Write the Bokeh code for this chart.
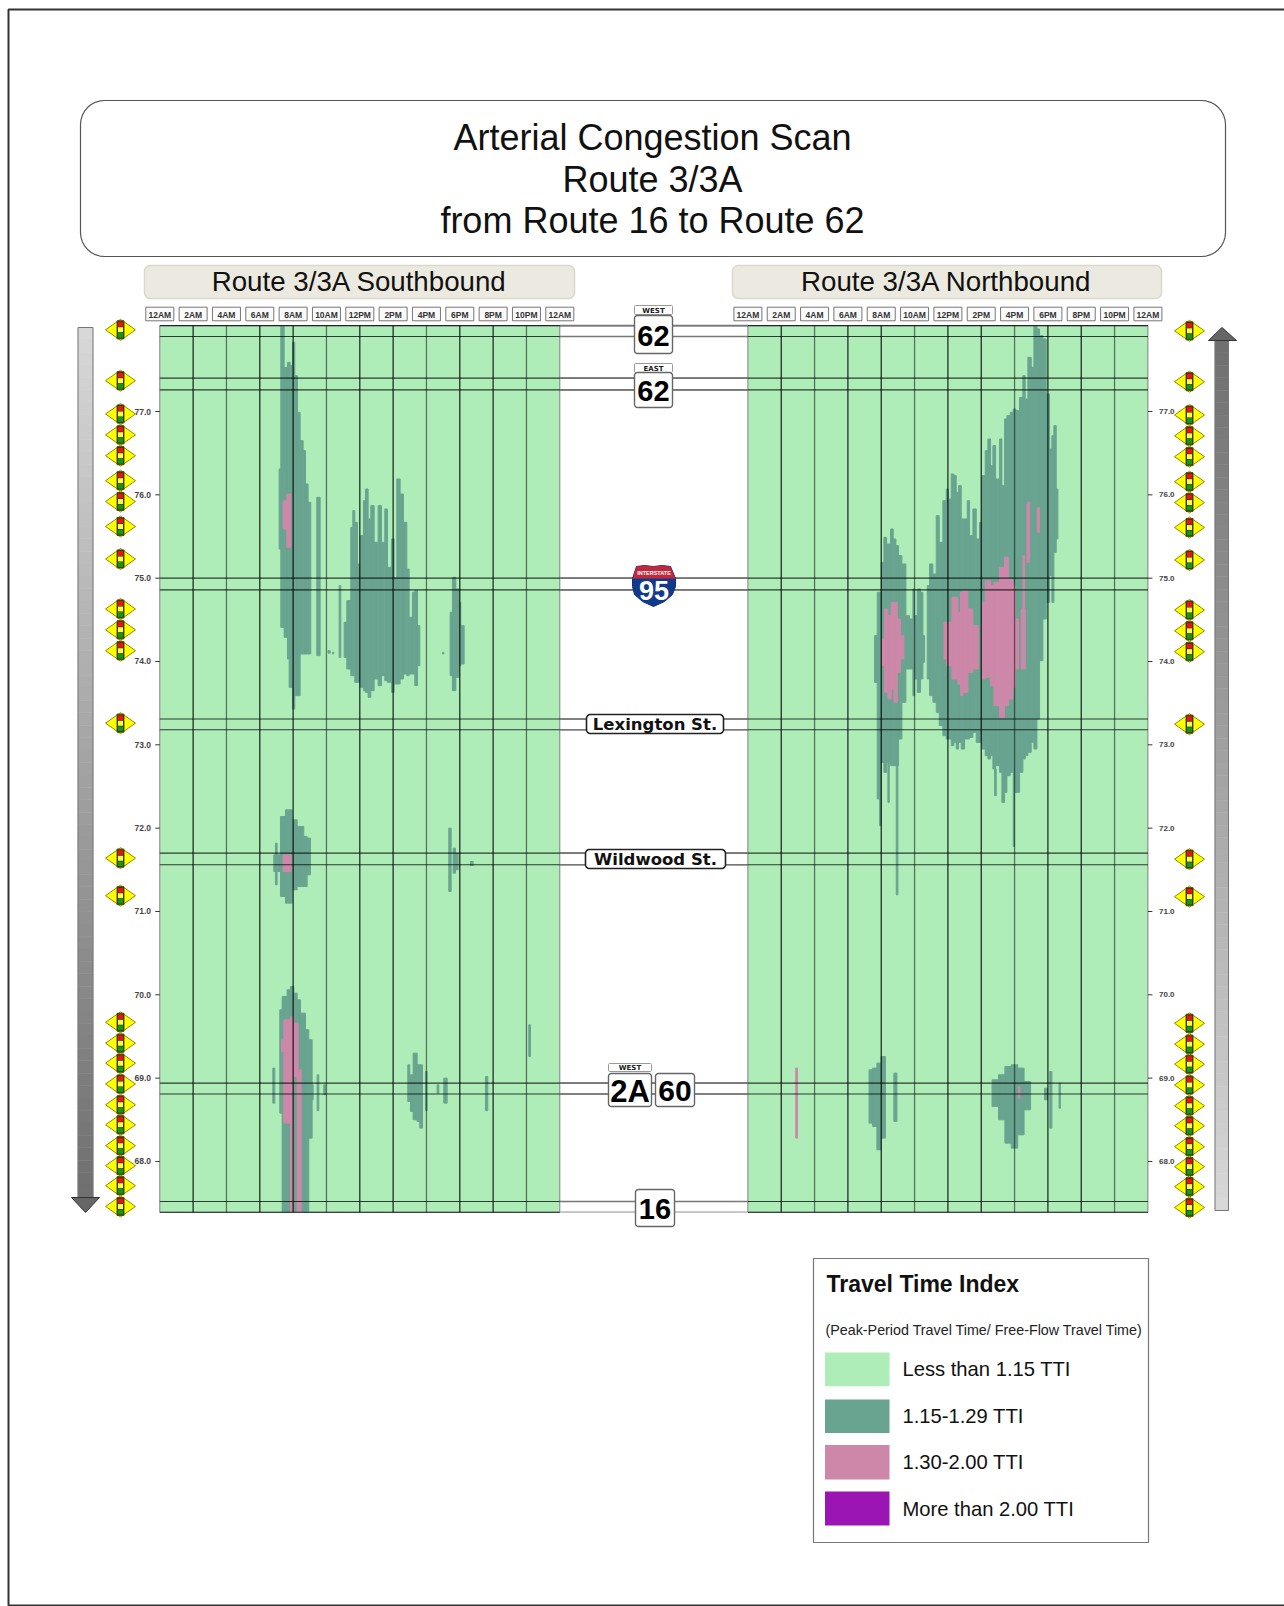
from bokeh.plotting import figure
from bokeh.models import Range1d
from bokeh.core.properties import value
from bokeh.embed import file_html
from bokeh.resources import INLINE
import math

# ---------- data: (start hour, end hour, upper milepost, lower milepost) ----------
SB_MID = [
 (7.16,7.26,76.31,75.35),(7.26,7.46,78.03,74.41),(7.46,7.66,77.53,74.29),(7.66,7.82,77.59,74.03),
 (7.76,7.96,77.55,73.69),(7.96,8.1,77.83,73.43),(8.1,8.26,77.43,73.59),(8.26,8.42,76.99,73.59),
 (8.42,8.6,76.65,74.09),(8.6,8.74,76.53,74.09),(8.74,8.9,76.13,74.09),(8.9,9.06,75.91,74.09),
 (9.42,9.62,75.97,74.07),(10.1,10.22,74.13,74.1),(10.36,10.44,74.11,74.09),(10.76,10.86,74.91,74.05),
 (11.06,11.22,74.47,74.05),(11.22,11.46,74.73,73.91),(11.46,11.58,75.61,73.83),(11.58,11.7,75.81,73.83),
 (11.7,11.86,75.67,73.75),(11.86,12.02,75.17,73.75),(12.02,12.22,75.51,73.69),(12.22,12.34,75.93,73.65),
 (12.34,12.5,76.07,73.63),(12.5,12.66,75.71,73.57),(12.66,12.86,75.87,73.65),(12.86,13.1,75.43,73.79),
 (13.1,13.3,75.87,73.71),(13.3,13.5,75.43,73.83),(13.5,13.66,75.83,73.77),(13.66,13.9,75.13,73.75),
 (13.9,14.06,75.47,73.63),(14.06,14.22,75.01,73.73),(14.22,14.42,76.19,73.73),(14.42,14.62,76.01,73.79),
 (14.62,14.82,75.67,73.85),(14.82,14.96,75.11,73.83),(14.96,15.16,74.53,73.85),(15.16,15.3,74.83,73.85),
 (15.3,15.46,74.85,73.71),(15.46,15.6,74.43,73.95),(16.96,17.04,74.11,74.09),
 (17.42,17.56,74.59,73.83),(17.56,17.76,75.01,73.65),(17.76,17.96,74.87,73.81),(17.96,18.06,74.71,73.95),
 (18.06,18.26,74.43,73.97),
 (6.94,7.04,71.82,71.32),(6.84,7.24,71.68,71.48),(7.24,7.54,72.14,71.18),(7.54,7.94,72.22,71.1),
 (7.94,8.24,72.1,71.26),(8.24,8.64,72.02,71.3),(8.64,8.84,71.9,71.3),(8.84,9.04,71.88,71.44),
 (17.34,17.48,72.0,71.24),(17.6,17.74,71.76,71.46),(17.8,17.9,71.7,71.5),(18.64,18.8,71.6,71.55),
 (7.2,7.34,69.82,68.58),(7.34,7.64,69.98,67.39),(7.64,7.84,70.06,67.39),(7.84,8.04,70.1,67.39),
 (8.04,8.24,70.02,67.39),(8.24,8.44,69.94,67.39),(8.44,8.74,69.78,67.39),(8.74,8.94,69.58,67.39),
 (8.94,9.14,69.46,68.28),(6.78,6.9,69.12,68.7),(9.44,9.54,69.04,68.61),(9.14,9.2,68.92,68.74),
 (9.84,9.94,68.92,68.8),(14.88,15.0,69.16,68.72),(15.04,15.2,69.04,68.6),(15.2,15.44,69.3,68.5),
 (15.44,15.6,69.16,68.48),(15.6,15.76,69.16,68.4),(15.94,16.04,69.08,68.61),(16.64,16.74,68.92,68.82),
 (17.04,17.24,69.0,68.7),(19.54,19.68,69.02,68.61),(22.14,22.24,69.64,69.26),
]
SB_HIGH = [
 (7.4,7.62,75.93,75.59),(7.62,7.86,76.01,75.37),(7.4,7.88,71.68,71.48),
 (7.3,7.44,69.46,69.32),(7.44,7.88,69.7,68.46),(7.84,8.0,69.74,67.39),(8.0,8.3,69.66,69.02),
 (8.24,8.48,69.1,67.39),
]
NB_MID = [
 (7.6,7.76,74.31,73.75),(7.76,7.9,74.83,72.35),(7.9,8.0,74.83,72.03),(8.0,8.16,75.19,72.79),
 (8.16,8.32,75.49,72.67),(8.32,8.56,75.41,72.79),(8.4,8.48,72.79,72.31),(8.56,8.72,75.59,72.75),
 (8.72,8.88,75.47,72.75),(8.88,9.04,75.39,72.75),(8.9,9.0,72.75,71.2),(9.04,9.24,75.27,73.07),
 (9.24,9.48,75.17,73.51),(9.48,9.7,74.55,73.91),(9.7,9.9,74.51,73.91),(9.9,10.0,74.87,73.59),
 (10.0,10.16,74.55,73.79),(10.16,10.36,74.87,73.63),(10.36,10.5,74.83,73.79),(10.5,10.6,74.31,73.99),
 (10.76,10.9,74.91,73.79),(10.9,11.1,75.17,73.59),(11.1,11.3,75.05,73.51),(11.3,11.48,75.75,73.39),
 (11.48,11.7,75.43,73.23),(11.7,11.9,75.93,73.11),(11.9,12.04,76.07,73.07),(12.04,12.2,75.95,73.07),
 (12.2,12.36,76.25,72.99),(12.36,12.5,76.23,73.03),(12.5,12.64,76.03,72.95),(12.64,12.8,76.11,73.03),
 (12.8,13.0,75.71,72.95),(13.0,13.16,75.71,73.07),(13.16,13.3,75.93,73.07),(13.3,13.5,75.51,73.09),
 (13.5,13.7,75.83,73.15),(13.7,13.9,75.47,73.03),(13.9,14.04,75.67,73.03),(14.04,14.24,76.23,72.95),
 (14.24,14.4,76.53,72.87),(14.4,14.56,76.67,72.83),(14.56,14.7,76.35,72.87),(14.7,14.86,76.59,72.71),
 (14.8,14.9,72.71,72.39),(14.86,15.1,76.19,72.75),(15.1,15.24,76.67,72.67),(15.24,15.4,76.11,72.31),
 (15.4,15.54,76.91,72.43),(15.54,15.74,76.95,72.63),(15.74,15.92,76.99,72.67),(15.92,16.0,77.03,71.78),
 (16.0,16.08,77.03,72.43),(16.08,16.3,77.01,72.43),(16.3,16.5,77.17,72.67),(16.5,16.64,77.43,72.83),
 (16.64,16.8,77.15,72.87),(16.8,17.0,77.65,72.91),(17.0,17.16,77.53,73.03),(17.16,17.34,78.03,72.95),
 (17.34,17.5,77.99,73.31),(17.5,17.7,77.91,74.01),(17.7,17.9,77.87,74.51),(17.9,18.1,77.21,74.71),
 (18.1,18.24,76.55,75.03),(18.24,18.36,76.71,74.71),(18.36,18.5,76.83,75.31),(18.5,18.6,76.07,75.47),
 (7.27,7.48,69.1,68.46),(7.48,7.74,69.12,68.42),(7.74,7.99,69.18,68.14),(7.99,8.25,69.26,68.28),
 (8.76,8.94,69.06,68.48),(14.65,15.04,68.98,68.66),(15.04,15.42,69.04,68.5),(15.42,15.8,69.14,68.22),
 (15.8,16.19,69.16,68.16),(16.19,16.57,69.12,68.32),(16.57,16.96,68.96,68.62),(17.8,17.98,68.88,68.74),
 (18.11,18.24,69.08,68.4),(18.67,18.75,68.94,68.64),
]
NB_HIGH = [
 (8.04,8.2,74.27,73.95),(8.2,8.4,74.63,73.63),(8.4,8.6,74.55,73.55),(8.6,8.76,74.71,73.67),
 (8.76,8.96,74.71,73.51),(8.96,9.16,74.51,73.87),(9.16,9.36,74.31,74.03),
 (11.76,11.92,74.47,74.03),(11.92,12.24,74.47,73.95),(12.24,12.6,74.77,73.79),(12.6,12.76,74.59,73.73),
 (12.76,12.9,74.83,73.59),(12.9,13.2,74.85,73.63),(13.2,13.5,74.63,73.87),(13.5,13.84,74.43,73.91),
 (14.04,14.24,74.71,73.79),(14.24,14.56,74.97,73.81),(14.56,14.76,74.91,73.71),(14.76,15.1,74.95,73.47),
 (15.1,15.4,75.13,73.33),(15.4,15.64,75.25,73.47),(15.64,15.9,74.99,73.55),(15.9,16.04,74.91,73.69),
 (16.04,16.24,74.51,73.91),(16.4,16.64,74.63,73.91),(16.5,16.6,75.27,74.63),(16.74,16.9,75.91,75.19),
 (17.36,17.5,75.85,75.55),(2.87,2.97,69.12,68.28),(16.24,16.32,68.9,68.76),
]
HOUR_TICKS = [0,2,4,6,8,10,12,14,16,18,20,22,24]
HOUR_LABELS = ["12AM","2AM","4AM","6AM","8AM","10AM","12PM","2PM","4PM","6PM","8PM","10PM","12AM"]
MILE_TICKS = [77,76,75,74,73,72,71,70,69,68]
ROAD_MILES = [78.03,77.90,77.40,77.26,75.0,74.86,73.31,73.18,71.70,71.56,68.94,68.81,67.52,67.39]
SIGNAL_MILES = [77.98,77.37,76.97,76.72,76.47,76.17,75.92,75.62,75.23,74.63,74.38,74.13,73.26,
                71.64,71.19,69.67,69.42,69.18,68.93,68.68,68.44,68.19,67.95,67.71,67.46]
LEGEND_LABELS = ["Less than 1.15 TTI","1.15-1.29 TTI","1.30-2.00 TTI","More than 2.00 TTI"]
LEGEND_COLORS = ["#AEEDB7","#69A490","#CD88A9","#9B14B4"]
LIGHT_HOURS = [4,10,16,22]

# ---------- scales ----------
W, H = 1284, 1606
X0, Y0 = 0, 0
PXH = 400/24; PXM = 83.33
SB0, NB0 = 159.3, 747.4
M0Y = 411.0
T, B = 78.03, 67.39
def my(y): return 77-(y-M0Y)/PXM

p = figure(width=W, height=H, output_backend="svg", toolbar_location=None,
           x_range=Range1d(X0, X0+W), y_range=Range1d(Y0+H, Y0),
           min_border=0, min_border_left=0, min_border_right=0, min_border_top=0, min_border_bottom=0,
           outline_line_color=None, x_axis_type=None, y_axis_type=None)
p.grid.visible = False
p.background_fill_color = "white"
p.extra_x_ranges = {"sb": Range1d((X0-SB0)/PXH, (X0+W-SB0)/PXH),
                    "nb": Range1d((X0-NB0)/PXH, (X0+W-NB0)/PXH)}
p.extra_y_ranges = {"mile": Range1d(my(Y0+H), my(Y0))}

ARIAL = value("Liberation Sans")
DJV = value("DejaVu Sans")

def txt(x, y, s, size, font=ARIAL, style="normal", color="#111111", align="center", **kw):
    p.text(x=[x], y=[y], text=[s], text_font=font, text_font_size=value(f"{size}px"),
           text_font_style=style, text_color=color, text_align=align, text_baseline="middle", **kw)

def rbox(x0, y0, x1, y1, r, fill, line, lw=1.0):
    xs, ys = [], []
    for cx, cy, a0 in [(x1-r, y0+r, -90), (x1-r, y1-r, 0), (x0+r, y1-r, 90), (x0+r, y0+r, 180)]:
        for i in range(9):
            a = math.radians(a0 + i*90/8)
            xs.append(cx + r*math.cos(a)); ys.append(cy + r*math.sin(a))
    p.patch(xs, ys, fill_color=fill, line_color=line, line_width=lw)

# ---------- page frame and title ----------
p.line([1284,8,8,1284],[9,9,1605,1605], line_color="#333333", line_width=2)
rbox(80, 100, 1225, 256, 24, "white", "#555555", 1.2)
for yy, s in [(137,"Arterial Congestion Scan"),(178.5,"Route 3/3A"),(220,"from Route 16 to Route 62")]:
    txt(652, yy, s, 36)
rbox(144, 265, 574, 298, 6, "#ECEAE0", "#DAD8C8", 1.5)
rbox(732, 265, 1161, 298, 6, "#ECEAE0", "#DAD8C8", 1.5)
txt(359, 281, "Route 3/3A Southbound", 27.7)
txt(946, 281, "Route 3/3A Northbound", 27.7)

# ---------- panels ----------
inner = HOUR_TICKS[1:-1]
for name, data_mid, data_high, x0 in [("sb",SB_MID,SB_HIGH,SB0),("nb",NB_MID,NB_HIGH,NB0)]:
    p.quad(left=[0], right=[24], top=[T], bottom=[B], x_range_name=name, y_range_name="mile",
           fill_color=LEGEND_COLORS[0], line_color="#808080", line_width=1)
    for rows, col in [(data_mid, LEGEND_COLORS[1]), (data_high, LEGEND_COLORS[2])]:
        p.quad(left=[r[0] for r in rows], right=[r[1] for r in rows], top=[r[2] for r in rows],
               bottom=[r[3] for r in rows], x_range_name=name, y_range_name="mile",
               fill_color=col, line_color=col, line_width=1.0)
    p.segment(x0=inner, x1=inner, y0=[T]*11, y1=[B]*11,
              x_range_name=name, y_range_name="mile", line_color="#000000",
              line_alpha=[0.5 if h in LIGHT_HOURS else 0.8 for h in inner], line_width=1.3)
    for h, lab in zip(HOUR_TICKS, HOUR_LABELS):
        cx = x0 + h*PXH
        p.quad(left=[cx-14], right=[cx+14], top=[306.7], bottom=[320.3], fill_color="#FAFAFA",
               line_color="#777777", line_width=1)
        txt(cx, 314, lab, 8.5, style="bold", color="#333333")

# ---------- road crossings ----------
gap_l, gap_r = SB0+400, NB0
for i, m in enumerate(ROAD_MILES):
    p.segment(x0=[SB0], x1=[NB0+400], y0=[m], y1=[m], y_range_name="mile",
              line_color="#000000", line_alpha=0.75, line_width=1.1)
    p.segment(x0=[gap_l], x1=[gap_r], y0=[m], y1=[m], y_range_name="mile",
              line_color="#C4C4C4" if i == 13 else "#777777", line_width=1.6)

# ---------- shields ----------
def shield(x0, y0, x1, y1, s, size=29):
    rbox(x0, y0, x1, y1, 3, "white", "#666666", 1.4)
    txt((x0+x1)/2, (y0+y1)/2+1, s, size, style="bold", color="#000000")
def tag(x0, y0, x1, y1, s):
    rbox(x0, y0, x1, y1, 1, "white", "#999999", 1)
    txt((x0+x1)/2, (y0+y1)/2+0.5, s, 7, style="bold", font=DJV, color="#222222")
tag(634,305,672,314,"WEST"); shield(634,315,672,353,"62")
tag(634,363,672,372,"EAST"); shield(634,372,672,407,"62")
tag(608,1063,651,1071,"WEST"); shield(608,1073,651,1106,"2A",31); shield(655,1073,694,1106,"60",30)
shield(635,1189,674,1226,"16")
rbox(586,714,723,733,4,"white","#222222",1.6)
txt(654.5,724,"Lexington St.",16.5,font=DJV,style="bold",color="#111111")
rbox(585,849,725,868,4,"white","#222222",1.6)
txt(655,858.5,"Wildwood St.",16.5,font=DJV,style="bold",color="#111111")
# Interstate shield
p.patch([632,636,644,653,662,670,675,675,672,664,653,642,634,632],
        [578,566,565,566,565,566,578,586,594,601,606,601,594,586], fill_color="#123A8C", line_color="#0F2F78", line_width=1)
p.patch([632,636,644,653,662,670,675],[578,566,565,566,565,566,578], fill_color="#C0283C", line_color=None)
txt(653.5,572,"INTERSTATE",5.5,style="bold",color="white")
txt(653.5,590,"95",27,style="bold",color="white")

# ---------- direction arrows ----------
n = 70
def gr(i):
    v = int(216 - (216-112)*i/(n-1)); return "#%02x%02x%02x" % (v,v,v)
y_a, y_b = 327.0, 1197.0
ltop = [y_a+(y_b-y_a)*i/n for i in range(n)]
lbot = [y_a+(y_b-y_a)*(i+1)/n for i in range(n)]
cols = [gr(i) for i in range(n)]
p.quad(left=77.5, right=92.5, top=ltop, bottom=lbot, fill_color=cols, line_color=cols, line_width=0.5)
p.line([77.5,77.5],[327,1197],line_color="#777777"); p.line([92.5,92.5],[327,1197],line_color="#777777")
p.line([77.5,92.5],[327,327],line_color="#777777")
p.patch([71,99,85],[1197,1197,1212],fill_color="#666666",line_color="#333333")
y_a, y_b = 340.0, 1210.0
rtop = [y_a+(y_b-y_a)*i/n for i in range(n)]
rbot = [y_a+(y_b-y_a)*(i+1)/n for i in range(n)]
cols = [gr(n-1-i) for i in range(n)]
p.quad(left=1214.5, right=1228, top=rtop, bottom=rbot, fill_color=cols, line_color=cols, line_width=0.5)
p.line([1214.5,1214.5],[340,1210],line_color="#777777"); p.line([1228,1228],[340,1210],line_color="#777777")
p.line([1214.5,1228],[1210,1210],line_color="#777777")
p.patch([1208,1236,1221.5],[340,340,327],fill_color="#666666",line_color="#333333")

# ---------- signals ----------
def signals(cx, dy):
    miles = [m - dy/PXM for m in SIGNAL_MILES]
    hh = 10.5/PXM
    p.patches(xs=[[cx-15,cx,cx+15,cx] for _ in miles], ys=[[m,m+hh,m,m-hh] for m in miles],
              y_range_name="mile", fill_color="#FFFF00", line_color="#8C8C00", line_width=1)
    p.rect(x=[cx]*len(miles), y=miles, width=7, height=18, width_units="screen", height_units="screen",
           y_range_name="mile", fill_color="#222222", line_color="#555500")
    for off, c in [(5.5,"#EE1111"),(0,"#FFFF44"),(-5.5,"#119911")]:
        p.rect(x=[cx]*len(miles), y=[m+off/PXM for m in miles], width=5, height=5,
               width_units="screen", height_units="screen", y_range_name="mile", fill_color=c, line_color=None)
signals(120, 0)
signals(1189, 1)

# ---------- mile ticks ----------
p.segment(x0=[SB0-4.5]*10, x1=[SB0]*10, y0=MILE_TICKS, y1=MILE_TICKS, y_range_name="mile", line_color="#333333", line_width=1)
p.segment(x0=[NB0+400]*10, x1=[NB0+404.5]*10, y0=MILE_TICKS, y1=MILE_TICKS, y_range_name="mile", line_color="#333333", line_width=1)
labs = [f"{m:.1f}" for m in MILE_TICKS]
p.text(x=[150.5]*10, y=MILE_TICKS, text=labs, y_range_name="mile", text_font=ARIAL, text_font_style="bold",
       text_font_size=value("8.5px"), text_color="#444444", text_align="right", text_baseline="middle")
p.text(x=[1158.5]*10, y=MILE_TICKS, text=labs, y_range_name="mile", text_font=ARIAL, text_font_style="bold",
       text_font_size=value("8px"), text_color="#444444", text_align="left", text_baseline="middle")

# ---------- legend ----------
p.quad(left=[813], right=[1148], top=[1258], bottom=[1542], fill_color="white", line_color="#777777", line_width=1.2)
txt(826, 1283, "Travel Time Index", 23, style="bold", color="#111111", align="left")
txt(825, 1329, "(Peak-Period Travel Time/ Free-Flow Travel Time)", 14.3, color="#222222", align="left")
for c, lab, y0, y1 in zip(LEGEND_COLORS, LEGEND_LABELS, [1352,1399,1444.5,1491], [1385.7,1432.5,1479,1525]):
    p.quad(left=[824.5], right=[889], top=[y0], bottom=[y1], fill_color=c, line_color=None)
    txt(902, (y0+y1)/2, lab, 20.2, color="#111111", align="left")

open("out.html", "w").write(file_html(p, INLINE))
